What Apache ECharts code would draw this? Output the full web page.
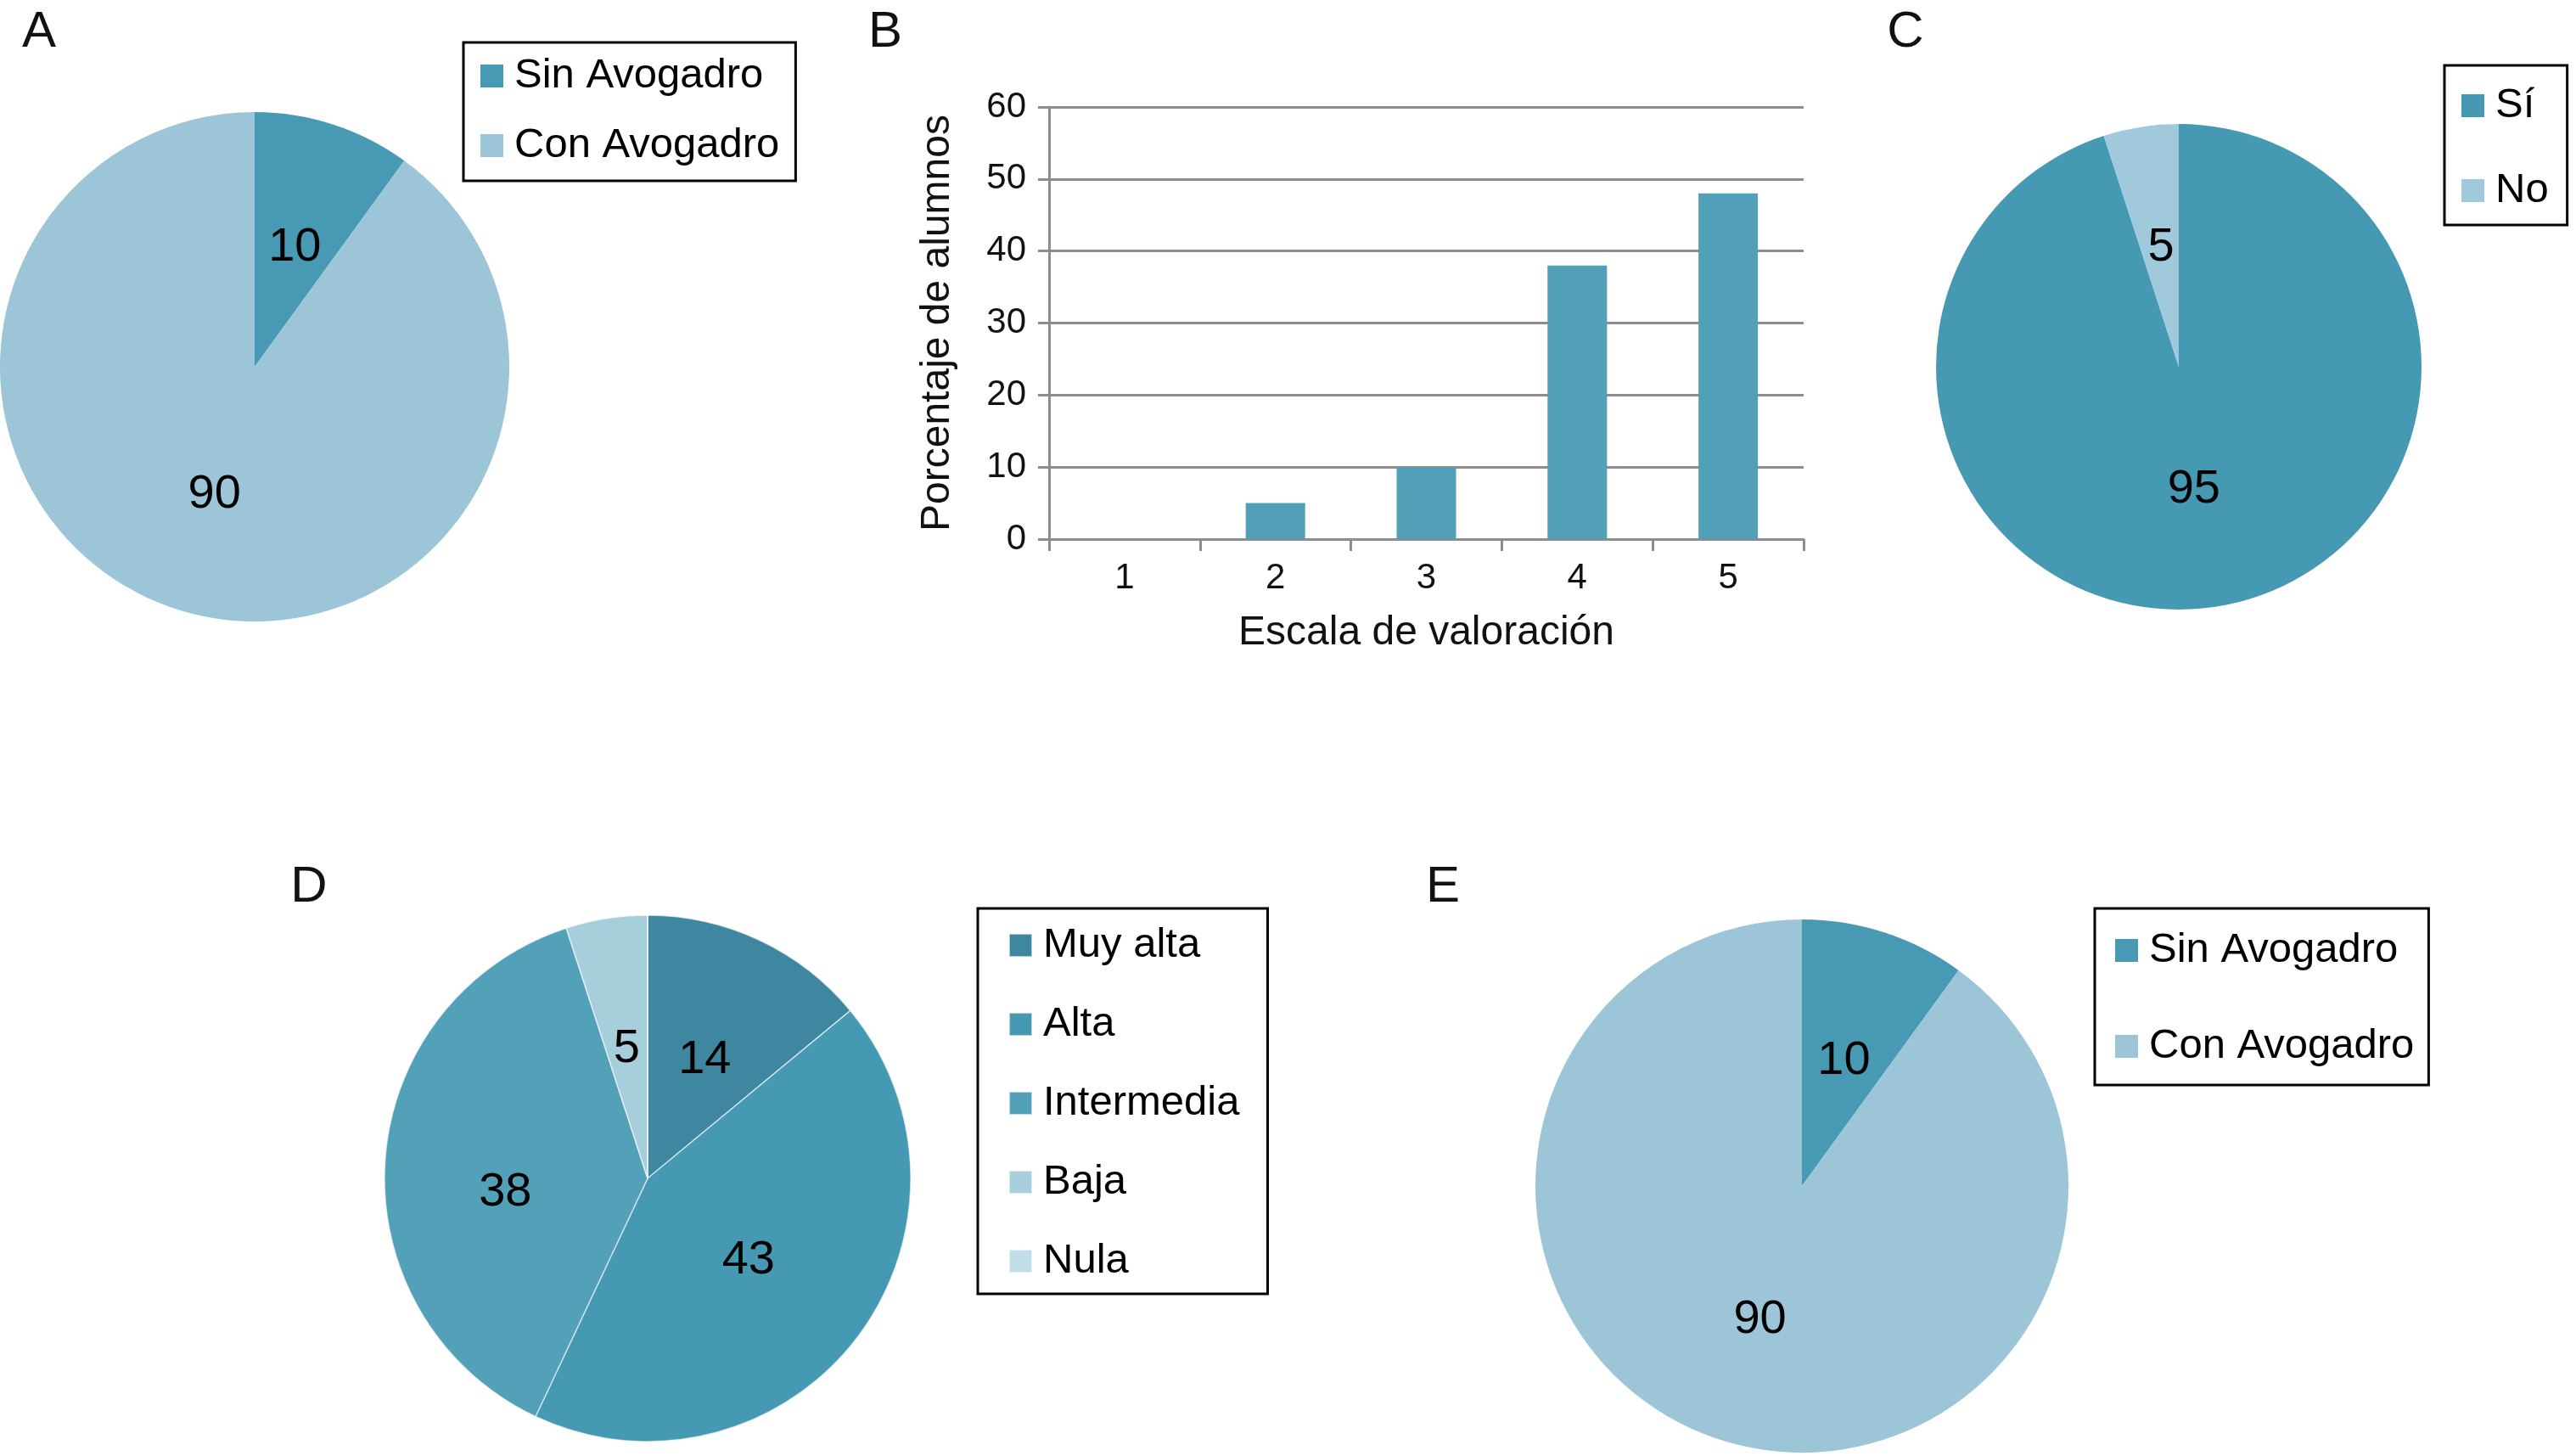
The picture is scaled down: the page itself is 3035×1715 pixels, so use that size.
<!DOCTYPE html>
<html>
<head>
<meta charset="utf-8">
<script src="https://cdn.jsdelivr.net/npm/echarts@6/dist/echarts.min.js"></script>
<style>
html,body{margin:0;padding:0;background:#fff;}
#chart{width:3035px;height:1715px;}
</style>
</head>
<body>
<div id="chart"></div>
<script>
// ---- Data ----
const pieACategories = ['Sin Avogadro', 'Con Avogadro'];
const pieAValues = [10, 90];
const barCategories = ['1', '2', '3', '4', '5'];
const barValues = [0, 5, 10, 38, 48];
const barYTicks = { min: 0, max: 60, interval: 10 };
const barXName = 'Escala de valoración';
const barYName = 'Porcentaje de alumnos';
const pieCCategories = ['Sí', 'No'];
const pieCValues = [95, 5];
const pieDCategories = ['Muy alta', 'Alta', 'Intermedia', 'Baja', 'Nula'];
const pieDValues = [14, 43, 38, 5, 0];
const pieECategories = ['Sin Avogadro', 'Con Avogadro'];
const pieEValues = [10, 90];
const panelLetters = ['A', 'B', 'C', 'D', 'E'];

// ---- Styles ----
const FONT = '"Liberation Sans", Arial, Helvetica, sans-serif';
const colorsAE = ['#4899b3', '#9cc6d7'];
const colorsC = ['#4699b3', '#a0cadb'];
const colorsD = ['#3f87a0', '#4699b2', '#53a1b8', '#a6cedb', '#c1dde7'];
// small label nudges (pixels) to mimic the original label placement
const labelNudgeD = [[0, 4], [-6, 0], [-10, 26], [0, 4], [0, 0]];
const labelNudgeC = [[-5, 0], [2, 4]];
const labelNudgeDefault = [0, 5];

function pieData(cats, vals, colors, nudges) {
  return cats.map((c, i) => {
    const d = { name: c, value: vals[i], itemStyle: { color: colors[i] } };
    d.label = { offset: nudges ? nudges[i] : labelNudgeDefault };
    if (vals[i] === 0) d.label.show = false;
    return d;
  });
}

function pieSeries(cats, vals, colors, center, radius, border, nudges) {
  return {
    type: 'pie',
    center: center,
    radius: radius,
    startAngle: 90,
    clockwise: true,
    avoidLabelOverlap: false,
    silent: true,
    animation: false,
    itemStyle: border ? { borderColor: 'rgba(255,255,255,0.6)', borderWidth: 1.5 } : { borderWidth: 0 },
    label: {
      show: true,
      position: 'inside',
      formatter: '{c}',
      fontSize: 56,
      fontFamily: FONT,
      color: '#000',
      textBorderWidth: 0
    },
    labelLine: { show: false },
    emphasis: { disabled: true },
    data: pieData(cats, vals, colors, nudges)
  };
}

function legend(names, left, top, gap, padding) {
  return {
    show: true,
    orient: 'vertical',
    left: left,
    top: top,
    data: names,
    selectedMode: false,
    itemWidth: 27,
    itemHeight: 27,
    itemGap: gap,
    padding: padding,
    borderColor: '#000',
    borderWidth: 3,
    backgroundColor: '#fff',
    icon: 'rect',
    formatter: n => '{t|' + n + '}',
    textStyle: {
      rich: {
        t: { fontSize: 49, lineHeight: 48, fontFamily: FONT, color: '#000', padding: [0, 0, 0, 8] }
      }
    }
  };
}

const letterPos = [[46, 38], [1043, 38], [2245, 38], [364, 1045], [1700, 1045]];

const option = {
  backgroundColor: '#fff',
  animation: false,
  textStyle: { fontFamily: FONT },
  graphic: panelLetters.map((t, i) => ({
    type: 'text',
    x: letterPos[i][0],
    y: letterPos[i][1],
    style: {
      text: t,
      font: '60px ' + FONT,
      fill: '#111',
      textAlign: 'center',
      textVerticalAlign: 'middle'
    }
  })),
  legend: [
    legend(pieACategories, 546, 50, 33, [15, 19, 17, 20]),
    legend(pieCCategories, 2880, 77, 51, [23, 22, 16, 20]),
    legend(pieDCategories, 1152, 1070, 44, [19, 33, 14, 36]),
    legend(pieECategories, 2468, 1070, 64, [25, 17, 21, 24])
  ],
  grid: { left: 1236, right: 910, top: 126, bottom: 1080, containLabel: false },
  xAxis: {
    type: 'category',
    data: barCategories,
    name: barXName,
    nameLocation: 'middle',
    nameGap: 87,
    nameTextStyle: { fontSize: 48, fontFamily: FONT, color: '#111' },
    axisLine: { show: true, lineStyle: { color: '#8c8c8c', width: 3 } },
    axisTick: { show: true, alignWithLabel: false, length: 14, lineStyle: { color: '#8c8c8c', width: 3 } },
    axisLabel: { fontSize: 42, fontFamily: FONT, color: '#111', margin: 25 },
    splitLine: { show: false }
  },
  yAxis: {
    type: 'value',
    min: barYTicks.min,
    max: barYTicks.max,
    interval: barYTicks.interval,
    name: barYName,
    nameLocation: 'middle',
    nameGap: 107,
    nameRotate: 90,
    nameTextStyle: { fontSize: 48, fontFamily: FONT, color: '#111' },
    axisLine: { show: true, lineStyle: { color: '#8c8c8c', width: 3 } },
    axisTick: { show: true, length: 13, lineStyle: { color: '#8c8c8c', width: 3 } },
    axisLabel: { fontSize: 42, fontFamily: FONT, color: '#111', margin: 27 },
    splitLine: { show: true, lineStyle: { color: '#8c8c8c', width: 3 } }
  },
  series: [
    pieSeries(pieACategories, pieAValues, colorsAE, [300, 432], 300, false),
    {
      type: 'bar',
      data: barValues,
      barWidth: 70,
      silent: true,
      itemStyle: { color: '#52a0b8' },
      emphasis: { disabled: true }
    },
    pieSeries(pieCCategories, pieCValues, colorsC, [2567, 432], 286, false, labelNudgeC),
    pieSeries(pieDCategories, pieDValues, colorsD, [763, 1388], 310, true, labelNudgeD),
    pieSeries(pieECategories, pieEValues, colorsAE, [2123, 1397], 314, false)
  ]
};

const chart = echarts.init(document.getElementById('chart'), null, { renderer: 'canvas' });
chart.setOption(option);
</script>
</body>
</html>
